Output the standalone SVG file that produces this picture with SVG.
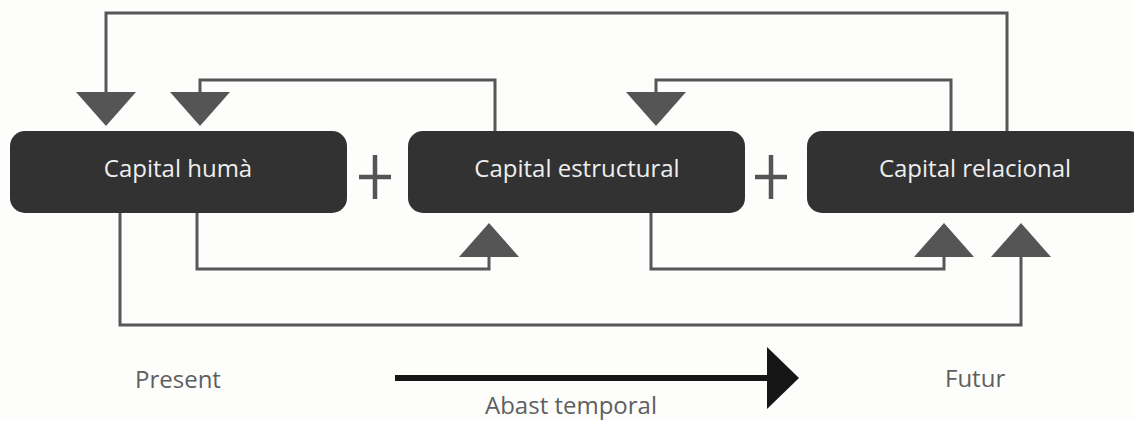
<svg xmlns="http://www.w3.org/2000/svg" width="1134" height="421" viewBox="0 0 1134 421">
  <style>
    .box { fill: #323232; }
    .box-label { font-family: "Open Sans", "Noto Sans", sans-serif; font-size: 24px; fill: #eeeeee; text-anchor: middle; }
    .caption { font-family: "Open Sans", "Noto Sans", sans-serif; font-size: 24px; fill: #5f5f5f; }
    .wire { fill: none; stroke: #575757; stroke-width: 3; stroke-linejoin: miter; }
    .head { fill: #555555; }
    .plus { stroke: #555555; stroke-width: 4.5; fill: none; }
  </style>
  <defs>
    <polygon id="tri-down" class="head" points="-30,0 30,0 0,34"/>
    <polygon id="tri-up" class="head" points="-30,0 30,0 0,-34"/>
  </defs>

  <rect width="1134" height="421" fill="#fdfdfc"/>

  <!-- feedback connectors -->
  <g id="connectors">
    <!-- top: relational back to human capital -->
    <polyline class="wire" points="1007,131 1007,13 106,13 106,93"/>
    <use href="#tri-down" x="106" y="92"/>
    <!-- top: structural back to human capital -->
    <polyline class="wire" points="495,131 495,80 200,80 200,93"/>
    <use href="#tri-down" x="200" y="92"/>
    <!-- top: relational back to structural -->
    <polyline class="wire" points="951,131 951,80 656,80 656,93"/>
    <use href="#tri-down" x="656" y="92"/>
    <!-- bottom: human to structural -->
    <polyline class="wire" points="197,213 197,269 489,269 489,256"/>
    <use href="#tri-up" x="489" y="257"/>
    <!-- bottom: structural to relational -->
    <polyline class="wire" points="651,213 651,269 944,269 944,256"/>
    <use href="#tri-up" x="944" y="257"/>
    <!-- bottom: human to relational -->
    <polyline class="wire" points="120,213 120,325 1021,325 1021,256"/>
    <use href="#tri-up" x="1021" y="257"/>
  </g>

  <g id="node-huma">
    <rect class="box" x="10" y="131" width="337" height="82" rx="15"/>
    <text class="box-label" x="178" y="177">Capital humà</text>
  </g>

  <g id="plus-1">
    <path class="plus" d="M359,177 H391 M375,155 V199"/>
  </g>

  <g id="node-estructural">
    <rect class="box" x="408" y="131" width="337" height="82" rx="15"/>
    <text class="box-label" x="577" y="177">Capital estructural</text>
  </g>

  <g id="plus-2">
    <path class="plus" d="M755,177 H787 M771,155 V199"/>
  </g>

  <g id="node-relacional">
    <rect class="box" x="807" y="131" width="337" height="82" rx="15"/>
    <text class="box-label" x="975" y="177">Capital relacional</text>
  </g>

  <!-- time axis -->
  <g id="time-axis">
    <line x1="395" y1="378" x2="770" y2="378" stroke="#161616" stroke-width="6"/>
    <polygon points="767,347 799,378 767,409" fill="#161616"/>
    <text class="caption" x="135" y="388">Present</text>
    <text class="caption" x="945" y="387">Futur</text>
    <text class="caption" x="485" y="414">Abast temporal</text>
  </g>
</svg>
